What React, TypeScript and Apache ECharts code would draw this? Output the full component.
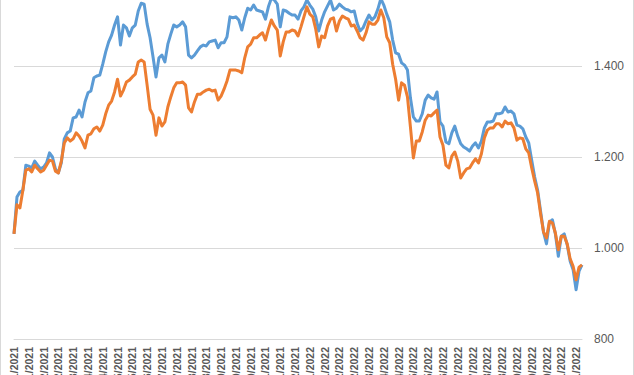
import React, { useEffect, useRef } from "react";
import * as echarts from "echarts";

const seriesNames = ["Serie 1", "Serie 2"];

const blue = [
  1031, 1112, 1123, 1127, 1182, 1180, 1176, 1191, 1182, 1174,
  1178, 1187, 1209, 1200, 1174, 1165, 1187, 1240, 1253, 1257,
  1286, 1288, 1303, 1288, 1321, 1341, 1345, 1374, 1378, 1380,
  1404, 1431, 1453, 1468, 1490, 1508, 1446, 1490, 1484, 1466,
  1484, 1490, 1521, 1538, 1536, 1492, 1462, 1420, 1376, 1418,
  1424, 1409, 1448, 1470, 1490, 1486, 1490, 1497, 1486, 1424,
  1418, 1424, 1433, 1442, 1446, 1444, 1453, 1455, 1457, 1440,
  1451, 1451, 1464, 1508, 1506, 1508, 1501, 1479, 1506, 1527,
  1523, 1534, 1523, 1521, 1519, 1503, 1530, 1549, 1545, 1536,
  1486, 1523, 1521, 1516, 1512, 1512, 1503, 1521, 1530, 1545,
  1534, 1525, 1508, 1477, 1501, 1519, 1532, 1545, 1523, 1527,
  1536, 1530, 1525, 1523, 1519, 1521, 1494, 1477, 1484, 1499,
  1512, 1501, 1508, 1525, 1548, 1534, 1514, 1497, 1457, 1429,
  1426, 1407, 1402, 1391, 1330, 1288, 1279, 1279, 1295, 1325,
  1336, 1330, 1327, 1343, 1277, 1268, 1233, 1229, 1253, 1268,
  1246, 1229, 1222, 1218, 1213, 1224, 1231, 1220, 1235, 1264,
  1277, 1277, 1279, 1295, 1295, 1297, 1310, 1299, 1301, 1295,
  1270, 1268, 1262, 1244, 1231, 1193, 1156, 1127, 1081, 1035,
  1009, 1057, 1062, 1031, 982, 1026, 1031, 1007, 971, 952,
  908, 949, 963,
];

const orange = [
  1031, 1095, 1088, 1127, 1171, 1174, 1167, 1182, 1174, 1167,
  1171, 1182, 1193, 1191, 1169, 1165, 1191, 1231, 1242, 1235,
  1240, 1253, 1246, 1235, 1220, 1248, 1251, 1262, 1266, 1257,
  1270, 1295, 1314, 1323, 1343, 1371, 1334, 1347, 1365, 1369,
  1376, 1382, 1409, 1413, 1409, 1358, 1305, 1292, 1248, 1286,
  1268, 1277, 1310, 1332, 1352, 1363, 1363, 1365, 1358, 1308,
  1299, 1321, 1338, 1338, 1343, 1347, 1349, 1345, 1347, 1325,
  1334, 1349, 1367, 1391, 1391, 1391, 1389, 1385, 1418, 1442,
  1448, 1462, 1462, 1468, 1473, 1457, 1481, 1501, 1488, 1479,
  1422, 1453, 1475, 1475, 1479, 1477, 1466, 1486, 1508, 1530,
  1514, 1508, 1481, 1442, 1466, 1462, 1488, 1503, 1506, 1477,
  1499, 1510, 1506, 1503, 1488, 1490, 1477, 1462, 1457, 1473,
  1497, 1492, 1492, 1501, 1523, 1506, 1464, 1451, 1404, 1371,
  1325, 1363, 1358, 1332, 1266, 1198, 1235, 1235, 1255, 1281,
  1292, 1290, 1297, 1303, 1244, 1226, 1182, 1176, 1202, 1211,
  1191, 1154, 1165, 1174, 1176, 1187, 1196, 1187, 1207, 1242,
  1259, 1264, 1264, 1273, 1273, 1266, 1279, 1273, 1275, 1264,
  1237, 1242, 1240, 1218, 1209, 1176, 1147, 1121, 1075, 1035,
  1022, 1059, 1055, 1033, 996, 1026, 1026, 1009, 976, 960,
  930, 958, 963,
];

const startDate = "2021-01-04";
const dayOffsets = blue.map((_, i) => Math.round(i * 3.65));

function fmtDate(base: string, add: number): string {
  const d = new Date(base + "T00:00:00Z");
  d.setUTCDate(d.getUTCDate() + add);
  const dd = String(d.getUTCDate()).padStart(2, "0");
  const mm = String(d.getUTCMonth() + 1).padStart(2, "0");
  return `${dd}/${mm}/${d.getUTCFullYear()}`;
}

const categories = dayOffsets.map((o) => fmtDate(startDate, o));

const yTicks = { min: 800, max: 1600, interval: 200 };

function fmtThousands(v: number): string {
  return String(Math.round(v)).replace(/\B(?=(\d{3})+(?!\d))/g, ".");
}

export default function App() {
  const ref = useRef<HTMLDivElement>(null);
  useEffect(() => {
    if (!ref.current) return;
    const chart = echarts.init(ref.current, undefined, { renderer: "svg" });
    chart.setOption({
      animation: false,
      backgroundColor: "#ffffff",
      textStyle: { fontFamily: "Liberation Sans, Arial, sans-serif" },
      grid: {
        left: 14,
        right: 52,
        top: 0,
        bottom: 36,
        containLabel: false,
        outerBoundsMode: "none",
      },
      graphic: [
        {
          type: "rect",
          shape: { x: 0.5, y: -10, width: 633, height: 500 },
          style: { fill: "none", stroke: "#d9d9d9", lineWidth: 1 },
          silent: true,
        },
      ],
      xAxis: {
        type: "category",
        data: categories,
        boundaryGap: false,
        axisLine: { show: true, lineStyle: { color: "#d9d9d9", width: 1 } },
        axisTick: { show: false },
        axisLabel: {
          interval: 4,
          rotate: 90,
          margin: 8,
          fontSize: 10.5,
          fontWeight: "bold",
          color: "#595959",
        },
        splitLine: { show: false },
      },
      yAxis: {
        type: "value",
        position: "right",
        min: yTicks.min,
        max: yTicks.max,
        interval: yTicks.interval,
        axisLine: { show: false },
        axisTick: { show: false },
        axisLabel: {
          margin: 12,
          fontSize: 12,
          color: "#595959",
          showMaxLabel: false,
          formatter: (v: number) => fmtThousands(v),
        },
        splitLine: { lineStyle: { color: "#d9d9d9", width: 1 } },
      },
      series: [
        {
          name: seriesNames[0],
          type: "line",
          data: blue,
          symbol: "none",
          lineStyle: { color: "#5B9BD5", width: 3, join: "round" },
          itemStyle: { color: "#5B9BD5" },
        },
        {
          name: seriesNames[1],
          type: "line",
          data: orange,
          symbol: "none",
          lineStyle: { color: "#ED7D31", width: 3, join: "round" },
          itemStyle: { color: "#ED7D31" },
        },
      ],
    });
    return () => chart.dispose();
  }, []);
  return (
    <div
      ref={ref}
      style={{ position: "absolute", left: 0, top: -25, width: 634, height: 400 }}
    />
  );
}
